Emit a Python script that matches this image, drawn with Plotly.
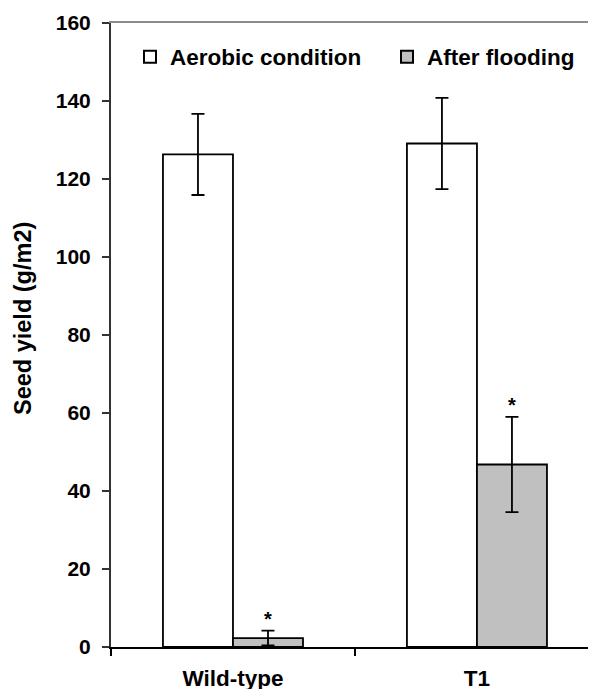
import plotly.graph_objects as go

categories = ["Wild-type", "T1"]
aerobic = [126.3, 129.1]
aerobic_err = [10.4, 11.7]
flooding = [2.3, 46.8]
flooding_err = [1.9, 12.2]
signif = ["*", "*"]
y_ticks = [0, 20, 40, 60, 80, 100, 120, 140, 160]
y_title = "Seed yield (g/m2)"

FONT = "Liberation Sans, Arial, sans-serif"
BARGAP = 0.426
BAR_W = (1 - BARGAP) / 2
xpos = list(range(len(categories)))

# page body has an 8px margin; layout values below are in figure coordinates
OFF = 8
W, H = 596, 689
PLOT_L, PLOT_T, PLOT_W, PLOT_H = 111 - OFF, 23 - OFF, 485, 624


def px_x(screen_x):
    return (screen_x - OFF - PLOT_L) / PLOT_W


def px_y(screen_y):
    return (PLOT_T + PLOT_H - (screen_y - OFF)) / PLOT_H


fig = go.Figure()
fig.add_trace(go.Bar(
    name="Aerobic condition", x=xpos, y=aerobic, legend="legend",
    marker=dict(color="white", line=dict(color="black", width=1.8)),
    error_y=dict(type="data", array=aerobic_err, color="black", thickness=1.8, width=6.5),
))
fig.add_trace(go.Bar(
    name="After flooding", x=xpos, y=flooding, legend="legend2",
    marker=dict(color="#c0c0c0", line=dict(color="black", width=1.8)),
    error_y=dict(type="data", array=flooding_err, color="black", thickness=1.8, width=6.5),
))
fig.add_trace(go.Scatter(
    x=[i + BAR_W / 2 for i in xpos],
    y=[v + e for v, e in zip(flooding, flooding_err)],
    mode="text", text=signif, textposition="top center",
    textfont=dict(family=FONT, size=20, color="black", weight="bold"),
    showlegend=False, hoverinfo="skip", xaxis="x2",
))

legend_common = dict(
    orientation="h", xanchor="left",
    y=px_y(57), yanchor="middle",
    font=dict(size=22.5, family=FONT, weight="bold"),
    bgcolor="rgba(0,0,0,0)", itemsizing="constant",
)

fig.update_layout(
    width=W, height=H,
    margin=dict(l=PLOT_L, r=W - PLOT_L - PLOT_W, t=PLOT_T, b=H - PLOT_T - PLOT_H, autoexpand=False),
    paper_bgcolor="white", plot_bgcolor="white",
    barmode="group", bargap=BARGAP, bargroupgap=0,
    font=dict(family=FONT, color="black", weight="bold"),
    showlegend=True,
    legend=dict(x=px_x(130), **legend_common),
    legend2=dict(x=px_x(387), **legend_common),
    xaxis=dict(
        range=[-0.5, 1.488], tickmode="array", tickvals=xpos, ticktext=categories,
        ticks="", showline=True, linecolor="black", linewidth=2,
        showgrid=False, zeroline=False, automargin=False,
        tickfont=dict(size=22.5, family=FONT, weight="bold"),
        ticklabelstandoff=10,
        minor=dict(tickmode="array", tickvals=[-0.5, 0.5, 1.5], ticks="outside",
                   ticklen=7, tickcolor="black", tickwidth=1.5, showgrid=False),
    ),
    xaxis2=dict(
        overlaying="x", side="top", matches="x", anchor="y",
        showline=True, linecolor="#8c8c8c", linewidth=2, automargin=False,
        showticklabels=False, ticks="", showgrid=False, zeroline=False,
    ),
    yaxis=dict(
        range=[0, 160], tickmode="array", tickvals=y_ticks,
        ticks="outside", ticklen=7, tickwidth=1.5, tickcolor="#333333",
        showline=True, linecolor="#333333", linewidth=2,
        showgrid=False, zeroline=False, automargin=False,
        tickfont=dict(size=21, family=FONT, weight="bold"),
        ticklabelstandoff=7,
    ),
    annotations=[dict(
        text=y_title, textangle=-90, showarrow=False,
        xref="paper", yref="paper", x=px_x(22.5), y=px_y(318.5),
        xanchor="center", yanchor="middle",
        font=dict(size=23.5, family=FONT, weight="bold", color="black"),
    )],
)

fig.write_html("out.html")
